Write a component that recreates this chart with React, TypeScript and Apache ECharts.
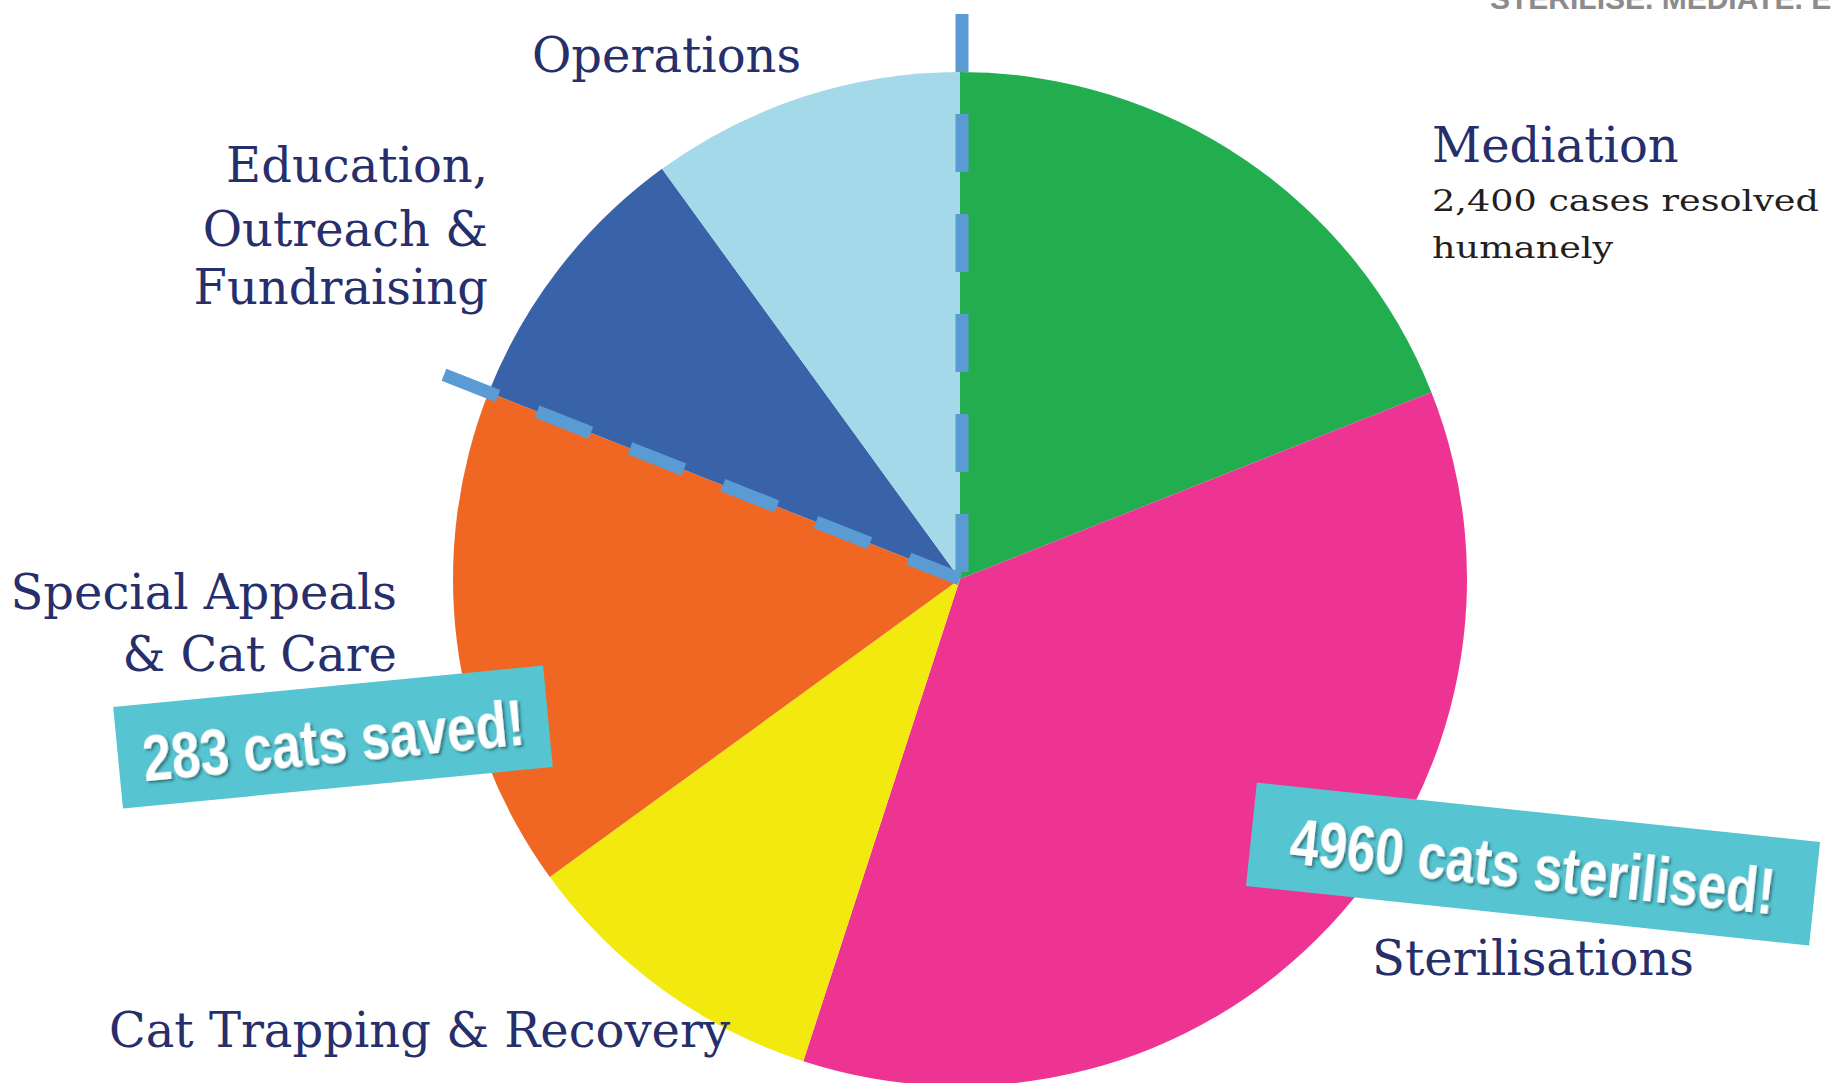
import React, { useEffect, useRef } from "react";
import * as echarts from "echarts";

// ---- data ----
const categories = [
  "Mediation",
  "Sterilisations",
  "Cat Trapping & Recovery",
  "Special Appeals & Cat Care",
  "Education, Outreach & Fundraising",
  "Operations",
];
const shares = [19, 36, 10, 16, 9, 10];
const sliceColors = ["#22AD4F", "#EE3493", "#F2E90F", "#F06723", "#3963A9", "#A3D9E9"];
const labelLines: string[][] = [
  ["Mediation"],
  ["Sterilisations"],
  ["Cat Trapping & Recovery"],
  ["Special Appeals", "& Cat Care"],
  ["Education,", "Outreach &", "Fundraising"],
  ["Operations"],
];
const mediationNote = ["2,400 cases resolved", "humanely"];
const callouts = ["283 cats saved!", "4960 cats sterilised!"];
const tagline = "STERILISE. MEDIATE. EDUCATE.";
// boundaries (cumulative slice index) marked with dashed lines
const dashedBoundaries = [0, 4];

const NAVY = "#262F6B";
const SERIF = "'DejaVu Serif', 'Liberation Serif', serif";
const SANS = "'Liberation Sans', Arial, sans-serif";

export default function App() {
  const ref = useRef<HTMLDivElement>(null);

  useEffect(() => {
    if (!ref.current) return;
    const chart = echarts.init(ref.current, undefined, { renderer: "svg" });

    const cx = 960;
    const cy = 579;
    const R = 507;
    const total = shares.reduce((a, b) => a + b, 0);
    const cum = (k: number) => shares.slice(0, k).reduce((a, b) => a + b, 0);

    const lineLens = [565, 555];
    const dashLines = dashedBoundaries.map((k, i) => {
      const deg = 90 - (cum(k) / total) * 360;
      const rad = (deg * Math.PI) / 180;
      const len = lineLens[i];
      return {
        type: "line",
        z: 100,
        silent: true,
        shape: {
          x1: cx + len * Math.cos(rad) + (k === 0 ? 2 : 0),
          y1: cy - len * Math.sin(rad),
          x2: cx + (k === 0 ? 2 : 0),
          y2: cy,
        },
        style: { stroke: "#5B9BD4", lineWidth: 13, lineDash: [58, 42], lineCap: "butt" },
      };
    });

    const navyText = (text: string, x: number, y: number, align: string) => ({
      type: "text",
      x,
      y,
      z: 50,
      silent: true,
      style: {
        text,
        fill: NAVY,
        fontFamily: SERIF,
        fontSize: 48,
        align,
        verticalAlign: "middle",
      },
    });

    const labelPos: { x: number; ys: number[]; align: string }[] = [
      { x: 1432, ys: [145], align: "left" },
      { x: 1533, ys: [958], align: "center" },
      { x: 109, ys: [1030], align: "left" },
      { x: 397, ys: [592, 654], align: "right" },
      { x: 488, ys: [165, 229, 287], align: "right" },
      { x: 532, ys: [55], align: "left" },
    ];

    const labelEls: any[] = [];
    labelLines.forEach((lines, i) => {
      lines.forEach((t, j) => {
        labelEls.push(navyText(t, labelPos[i].x, labelPos[i].ys[j], labelPos[i].align));
      });
    });

    const noteEls = mediationNote.map((t, j) => ({
      type: "text",
      x: 1432,
      y: [201, 248][j],
      scaleX: 1.22,
      z: 50,
      silent: true,
      style: {
        text: t,
        fill: "#231F20",
        fontFamily: SERIF,
        fontSize: 30,
        align: "left",
        verticalAlign: "middle",
      },
    }));

    const boxSpecs = [
      { x: 333, y: 737, w: 432, h: 102, rot: 5.5, fs: 64, sx: 0.81 },
      { x: 1533, y: 864, w: 566, h: 104, rot: -6, fs: 64, sx: 0.8 },
    ];
    const calloutEls = callouts.map((t, i) => {
      const b = boxSpecs[i];
      return {
        type: "group",
        x: b.x,
        y: b.y,
        rotation: (b.rot * Math.PI) / 180,
        z: 120,
        silent: true,
        children: [
          {
            type: "rect",
            shape: { x: -b.w / 2, y: -b.h / 2, width: b.w, height: b.h },
            style: { fill: "#56C4D1" },
            z: 120,
          },
          {
            type: "text",
            x: 0,
            y: 3,
            scaleX: b.sx,
            z: 121,
            style: {
              text: t,
              fill: "#FFFFFF",
              fontFamily: SANS,
              fontWeight: "bold",
              fontSize: b.fs,
              align: "center",
              verticalAlign: "middle",
              textShadowColor: "rgba(0,0,0,0.45)",
              textShadowBlur: 3,
              textShadowOffsetX: 2,
              textShadowOffsetY: 2,
            },
          },
        ],
      };
    });

    const taglineEl = {
      type: "text",
      x: 1490,
      y: 13,
      z: 50,
      silent: true,
      style: {
        text: tagline,
        fill: "#8C8C8C",
        fontFamily: SANS,
        fontWeight: "bold",
        fontSize: 30,
        align: "left",
        verticalAlign: "bottom",
      },
    };

    chart.setOption({
      animation: false,
      backgroundColor: "#FFFFFF",
      series: [
        {
          type: "pie",
          center: [cx, cy],
          radius: R,
          startAngle: 90,
          clockwise: true,
          silent: true,
          label: { show: false },
          labelLine: { show: false },
          emphasis: { disabled: true },
          itemStyle: { borderWidth: 0 },
          data: categories.map((name, i) => ({
            name,
            value: shares[i],
            itemStyle: { color: sliceColors[i] },
          })),
        },
      ],
      graphic: {
        elements: [...dashLines, ...labelEls, ...noteEls, ...calloutEls, taglineEl],
      },
    });

    return () => chart.dispose();
  }, []);

  return (
    <div
      ref={ref}
      style={{
        position: "fixed",
        left: 0,
        top: 0,
        width: "1832px",
        height: "1083px",
        background: "#fff",
      }}
    />
  );
}
